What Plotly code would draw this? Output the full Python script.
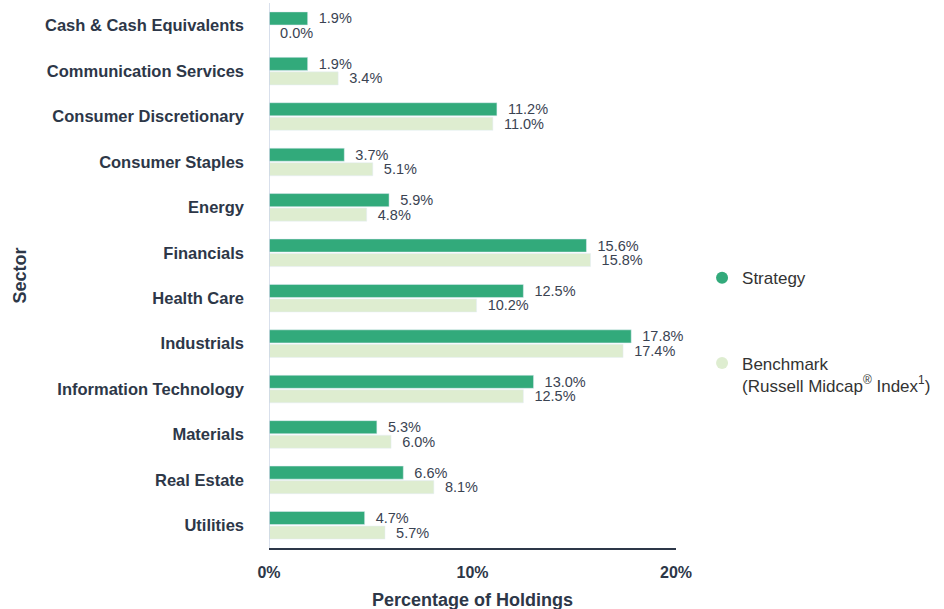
import plotly.graph_objects as go

sectors = ["Cash & Cash Equivalents", "Communication Services", "Consumer Discretionary",
           "Consumer Staples", "Energy", "Financials", "Health Care", "Industrials",
           "Information Technology", "Materials", "Real Estate", "Utilities"]
strategy = [1.9, 1.9, 11.2, 3.7, 5.9, 15.6, 12.5, 17.8, 13.0, 5.3, 6.6, 4.7]
benchmark = [0.0, 3.4, 11.0, 5.1, 4.8, 15.8, 10.2, 17.4, 12.5, 6.0, 8.1, 5.7]
x_ticks = [0, 10, 20]
x_tick_labels = ["0%", "10%", "20%"]

GREEN = "#32aa7b"
LIGHT = "#deedd0"
TXT = "#2d3748"
FONT = "Arial, Liberation Sans, sans-serif"

fig = go.Figure()
for vals, col in [(strategy, GREEN), (benchmark, LIGHT)]:
    fig.add_trace(go.Bar(y=sectors, x=vals, orientation="h", marker_color=col,
                         texttemplate="\u00a0\u00a0%{x:.1f}%", textposition="outside",
                         constraintext="none",
                         textfont=dict(size=14.5, color="#3a4352", family=FONT),
                         cliponaxis=False, showlegend=False, hoverinfo="skip"))
# legend entries (circle markers)
fig.add_trace(go.Scatter(x=[None], y=[None], mode="markers", name="Strategy",
                         marker=dict(color=GREEN, size=17, symbol="circle"),
                         legendgroup="a"))
fig.add_trace(go.Scatter(x=[None], y=[None], mode="markers",
                         name="Benchmark<br>(Russell Midcap<sup>®</sup> Index<sup>1</sup>)",
                         marker=dict(color=LIGHT, size=17, symbol="circle"),
                         legendgroup="b"))

fig.update_layout(
    width=944, height=609,
    margin=dict(l=269, r=268, t=3, b=61),
    paper_bgcolor="white", plot_bgcolor="white",
    barmode="group", bargap=0.36, bargroupgap=0.1,
    font=dict(family=FONT, color=TXT),
    legend=dict(x=1.064, y=0.528, xanchor="left", yanchor="top", valign="top",
                tracegroupgap=60, font=dict(size=17, color="#333333", family=FONT),
                itemsizing="constant"),
    xaxis=dict(range=[0, 20], tickvals=x_ticks, ticktext=x_tick_labels,
               showgrid=False, zeroline=False, showline=True, linecolor=TXT, linewidth=2,
               ticks="", ticklabelstandoff=9,
               tickfont=dict(size=16, color=TXT, family=FONT, weight="bold")),
    yaxis=dict(autorange="reversed", showgrid=False, zeroline=False, showline=False,
               ticks="", ticklabelstandoff=24,
               tickfont=dict(size=16.5, color=TXT, family=FONT, weight="bold")),
    shapes=[dict(type="line", xref="x", yref="paper", x0=0, x1=0, y0=0, y1=1,
                 line=dict(color="#cdd6e6", width=1.5))],
    annotations=[
        dict(text="<b>Percentage of Holdings</b>", xref="paper", yref="paper",
             x=0.5, y=-0.0954, xanchor="center", yanchor="middle", showarrow=False,
             font=dict(size=18, color=TXT, family=FONT)),
        dict(text="<b>Sector</b>", xref="paper", yref="paper",
             x=-0.612, y=0.5, xanchor="center", yanchor="middle", showarrow=False,
             textangle=-90, font=dict(size=18, color=TXT, family=FONT)),
    ],
)

fig.write_html("out.html", config={"displayModeBar": False},
               post_script="document.body.style.margin='0';document.body.style.padding='0';")
